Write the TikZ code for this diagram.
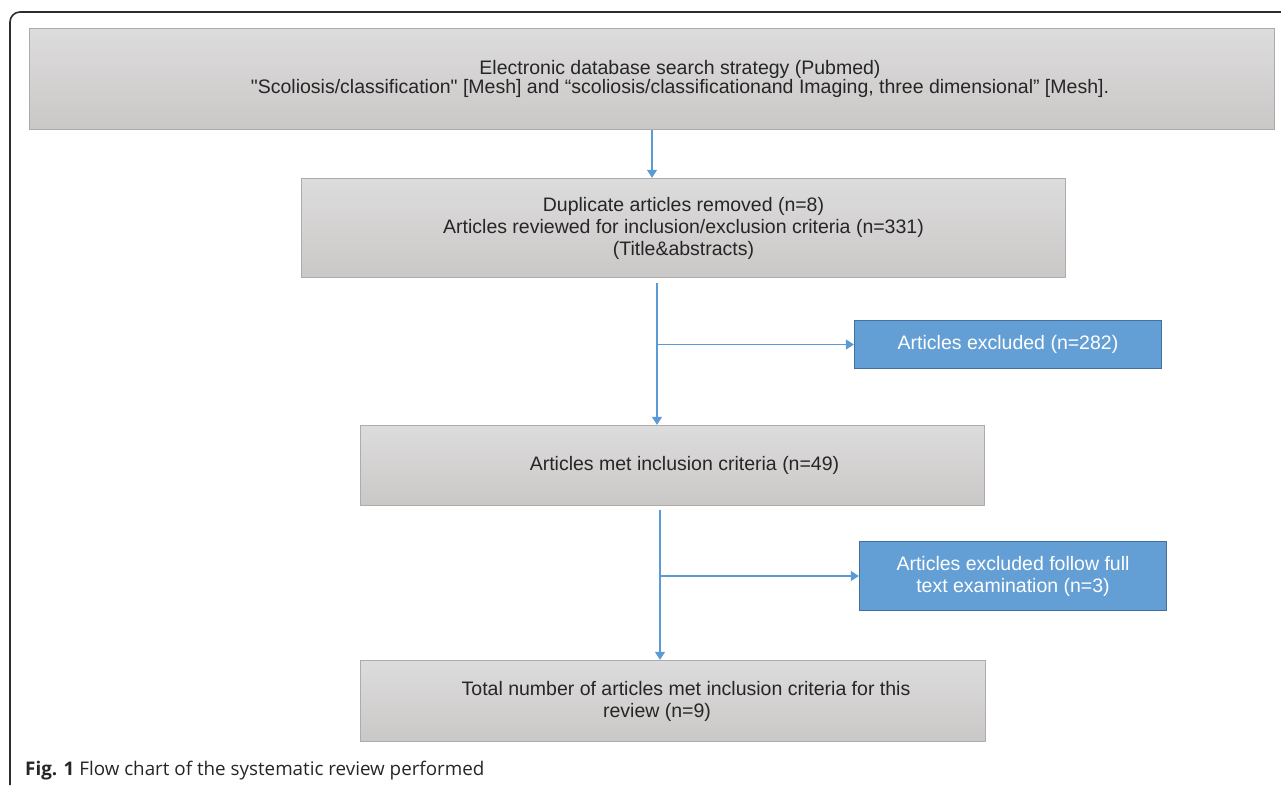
\documentclass[tikz,border=0pt]{standalone}
\usepackage{fontspec}
\newfontfamily\boxfont{Liberation Sans}
\newfontfamily\capfont{Open Sans}
\usetikzlibrary{arrows.meta}

\definecolor{boxTop}{RGB}{221,220,220}
\definecolor{boxBot}{RGB}{202,200,199}
\definecolor{boxLine}{RGB}{172,172,172}
\definecolor{exFill}{RGB}{99,159,213}
\definecolor{exLine}{RGB}{66,113,160}
\definecolor{flowLine}{RGB}{91,155,213}
\definecolor{frameLine}{RGB}{45,45,45}

\begin{document}
\begin{tikzpicture}[
  x=1pt, y=-1pt,
  every node/.style={inner sep=0pt, align=center, font=\boxfont\fontsize{19.5}{22}\selectfont},
  stage/.style={draw=boxLine, line width=1.3pt, top color=boxTop, bottom color=boxBot, text=black!85},
  drop/.style={draw=exLine, line width=1.3pt, fill=exFill, text=white},
  flow/.style={draw, color=flowLine, line width=1.1pt, -{Triangle[width=10pt,length=8pt]}}
  ]
  \useasboundingbox (0,0) rectangle (1281,785);

  % frame round the figure
  \draw[frameLine, line width=1.6pt, rounded corners=10pt] (10,785) -- (10,12) -- (1281,12);

  \node[stage, minimum width=1245pt, minimum height=101pt,
        font=\boxfont\fontsize{19.5}{18.5}\selectfont] (NSearch) at (652,79)
    {\hspace*{56pt}Electronic database search strategy (Pubmed)\\
     \hspace*{56pt}"Scoliosis/classification" [Mesh] and “scoliosis/classificationand Imaging, three dimensional” [Mesh].};
  \node[stage, minimum width=764pt, minimum height=99pt] (NDup) at (683.5,228)
    {Duplicate articles removed (n=8)\\
     Articles reviewed for inclusion/exclusion criteria (n=331)\\
     (Title\&abstracts)};
  \node[drop, minimum width=307pt, minimum height=48pt] (NExcl) at (1008,344.5)
    {Articles excluded (n=282)};
  \node[stage, minimum width=624pt, minimum height=80pt] (NMet) at (672.5,465.5)
    {\hspace*{24pt}Articles met inclusion criteria (n=49)};
  \node[drop, minimum width=307pt, minimum height=69pt] (NExclFull) at (1013,576)
    {Articles excluded follow full\\
     text examination (n=3)};
  \node[stage, minimum width=625pt, minimum height=81pt] (NTotal) at (673,701)
    {\hspace*{26pt}Total number of articles met inclusion criteria for this\\
     review (n=9)\hspace*{32pt}};

  \node[anchor=base west, font=\capfont\fontsize{18.8}{21}\selectfont, text=black!85] (NCaption) at (25,775)
    {\textbf{Fig. 1} Flow chart of the systematic review performed};

  \coordinate (S1) at (657,283);
  \coordinate (S2) at (660,510);

  \path[every edge/.append style={flow}]
  (NSearch.south)        edge (NSearch.south |- NDup.north)
  (S1)                   edge (S1 |- NMet.north)
  (S1 |- NExcl.west)     edge (NExcl.west)
  (S2)                   edge (S2 |- NTotal.north)
  (S2 |- NExclFull.west) edge (NExclFull.west)
  ;
\end{tikzpicture}
\end{document}
